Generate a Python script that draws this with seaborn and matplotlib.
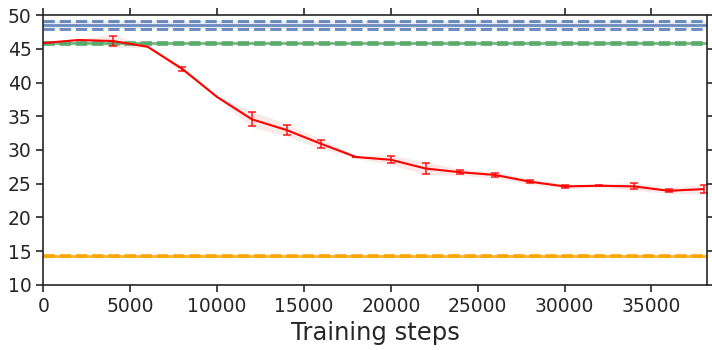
import matplotlib
matplotlib.use("Agg")
import matplotlib.pyplot as plt
import numpy as np
import pandas as pd
import seaborn as sns

# training curve (mean and spread over runs)
steps = [0, 2000, 4000, 6000, 8000, 10000, 12000, 14000, 16000, 18000,
         20000, 22000, 24000, 26000, 28000, 30000, 32000, 34000, 36000, 38000]
score = [45.85, 46.3, 46.15, 45.3, 42.0, 37.85, 34.55, 32.95, 30.9, 28.95,
         28.55, 27.25, 26.7, 26.3, 25.3, 24.6, 24.7, 24.6, 23.95, 24.2]
score_err = [0.0, 0.0, 0.8, 0.0, 0.25, 0.0, 1.05, 0.75, 0.55, 0.05,
             0.55, 0.8, 0.3, 0.35, 0.25, 0.2, 0.05, 0.45, 0.2, 0.6]

# horizontal reference levels (mean, std)
baseline_names = ["blue", "green", "orange"]
baseline_mean = [48.55, 45.85, 14.35]
baseline_std = [0.62, 0.12, 0.04]
baseline_colors = ["#4c72b0", "#55a868", "#ffa500"]

sns.set_theme(style="ticks", font_scale=1.0)
plt.rcParams["font.family"] = ["DejaVu Sans"]

fig, ax = plt.subplots(figsize=(7.12, 3.5), dpi=100)
fig.subplots_adjust(left=0.061, right=0.993, top=0.957, bottom=0.186)

for name, m, s, c in zip(baseline_names, baseline_mean, baseline_std, baseline_colors):
    ax.axhspan(m - s, m + s, color=c, alpha=0.12, lw=0)
    ax.axhline(m, color=c, lw=2, alpha=0.8)
    ax.axhline(m - s, color=c, lw=2.2, ls="--", alpha=0.8)
    ax.axhline(m + s, color=c, lw=2.2, ls="--", alpha=0.8)

df = pd.DataFrame({"step": steps, "score": score, "err": score_err})
lo = df["score"] - df["err"] - 0.15
hi = df["score"] + df["err"] + 0.15
ax.fill_between(df["step"], lo, hi, color="#c0392b", alpha=0.1, lw=0)
sns.lineplot(data=df, x="step", y="score", color="red", lw=1.5, ax=ax)
bars = df[df["err"] > 0]
ax.errorbar(bars["step"], bars["score"], yerr=bars["err"], fmt="none",
            ecolor="red", alpha=0.75, capsize=3, elinewidth=1.3, capthick=1.3)

ax.set_xlim(0, 38200)
ax.set_ylim(10, 50)
ax.set_yticks(np.arange(10, 51, 5))
ax.set_xticks(np.arange(0, 35001, 5000))
ax.set_xlabel("Training steps", fontsize=17.5)
ax.set_ylabel("")
ax.tick_params(labelsize=13.5, top=True, right=True, direction="out",
               length=5, width=1.2)
for sp in ax.spines.values():
    sp.set_linewidth(1.2)
    sp.set_color("#262626")

fig.savefig("out.png", dpi=100)
